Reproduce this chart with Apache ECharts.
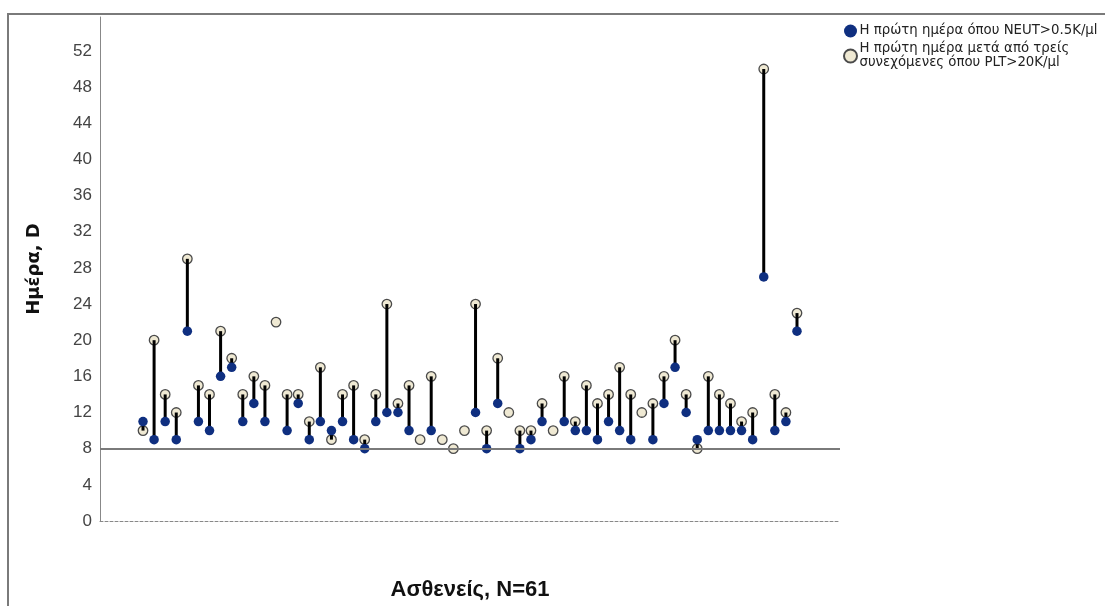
<!DOCTYPE html>
<html>
<head>
<meta charset="utf-8">
<script src="https://cdn.jsdelivr.net/npm/echarts@6/dist/echarts.min.js"></script>
<style>
  html, body { margin: 0; padding: 0; background: #fff; }
  #chart { width: 1105px; height: 606px; }
</style>
</head>
<body>
<div id="chart"></div>
<script>
// Patient index along the horizontal axis
const patients = Array.from({ length: 60 }, (_, i) => i + 1);

// First day with NEUT > 0.5K/μl (null = not reached)
const neutDay = [
  11, 9, 11, 9, 21, 11, 10, 16, 17, 11,
  13, 11, null, 10, 13, 9, 11, 10, 11, 9,
  8, 11, 12, 12, 10, null, 10, null, null, null,
  12, 8, 13, null, 8, 9, 11, null, 11, 10,
  10, 9, 11, 10, 9, null, 9, 13, 17, 12,
  9, 10, 10, 10, 10, 9, 27, 10, 11, 21
];

// First day after three consecutive days with PLT > 20K/μl
const pltDay = [
  10, 20, 14, 12, 29, 15, 14, 21, 18, 14,
  16, 15, 22, 14, 14, 11, 17, 9, 14, 15,
  9, 14, 24, 13, 15, 9, 16, 9, 8, 10,
  24, 10, 18, 12, 10, 10, 13, 10, 16, 11,
  15, 13, 14, 17, 14, 12, 13, 16, 20, 14,
  8, 16, 14, 13, 11, 12, 50, 14, 12, 23
];

// Axis ticks
const yTickStep = 4;
const referenceDay = 8;

const neutName = 'Η πρώτη ημέρα όπου NEUT>0.5K/μl';
const pltName = 'Η πρώτη ημέρα μετά από τρείς\nσυνεχόμενες όπου PLT>20K/μl';

const neutPoints = [];
const pltPoints = [];
const stems = [];
patients.forEach((p, i) => {
  if (neutDay[i] != null) neutPoints.push([p, neutDay[i]]);
  if (pltDay[i] != null) pltPoints.push([p, pltDay[i]]);
  if (neutDay[i] != null && pltDay[i] != null) stems.push([p, neutDay[i], pltDay[i]]);
});

const chart = echarts.init(document.getElementById('chart'), null, { renderer: 'canvas' });

chart.setOption({
  animation: false,
  backgroundColor: '#ffffff',
  textStyle: { fontFamily: 'Liberation Sans, Arial, sans-serif' },
  graphic: [{
    type: 'rect',
    silent: true,
    shape: { x: 8, y: 14, width: 1300, height: 800 },
    style: { fill: 'none', stroke: '#7a7a7a', lineWidth: 2 }
  }],
  grid: { left: 100, right: 265, top: 17, bottom: 83 },
  legend: {
    orient: 'vertical',
    left: 838,
    top: 19,
    itemWidth: 14,
    itemHeight: 13,
    itemGap: 4,
    selectedMode: false,
    data: [
      { name: neutName, icon: 'circle' },
      { name: pltName, icon: 'circle' }
    ],
    textStyle: {
      fontFamily: 'DejaVu Sans, sans-serif',
      fontSize: 13.3,
      color: '#222',
      lineHeight: 14,
      padding: [0, 0, 0, -3]
    }
  },
  xAxis: {
    type: 'value',
    min: -2.88,
    max: 63.88,
    name: 'Ασθενείς, N=61',
    nameLocation: 'middle',
    nameGap: 58,
    nameTextStyle: {
      fontFamily: 'Liberation Sans Narrow, Arial Narrow, Liberation Sans, sans-serif',
      fontWeight: 'bold',
      fontSize: 22,
      color: '#111'
    },
    axisLine: { show: true, lineStyle: { color: '#888', width: 1, type: [3, 2] } },
    axisTick: { show: false },
    axisLabel: { show: false },
    splitLine: { show: false }
  },
  yAxis: {
    type: 'value',
    min: 0,
    max: 55.75,
    interval: yTickStep,
    name: 'Ημέρα, D',
    nameLocation: 'middle',
    nameGap: 57,
    nameRotate: 90,
    nameTextStyle: {
      fontFamily: 'DejaVu Sans, sans-serif',
      fontWeight: 'bold',
      fontSize: 18,
      color: '#111'
    },
    axisLine: { show: true, onZero: false, lineStyle: { color: '#888', width: 1 } },
    axisTick: { show: false },
    axisLabel: { fontSize: 17, color: '#444', margin: 8, showMaxLabel: false },
    splitLine: { show: false }
  },
  series: [
    {
      name: pltName,
      type: 'scatter',
      z: 2,
      data: pltPoints,
      symbol: 'circle',
      symbolSize: 9.5,
      itemStyle: { color: '#efe9d3', borderColor: '#4a4a4a', borderWidth: 1.3, opacity: 1 },
      markLine: {
        silent: true,
        symbol: 'none',
        label: { show: false },
        lineStyle: { color: '#7a7a7a', width: 2, type: 'solid' },
        data: [{ yAxis: referenceDay }]
      }
    },
    {
      type: 'custom',
      z: 3,
      data: stems,
      encode: { x: 0, y: [1, 2] },
      renderItem: function (params, api) {
        const a = api.coord([api.value(0), api.value(1)]);
        const b = api.coord([api.value(0), api.value(2)]);
        return {
          type: 'line',
          shape: { x1: a[0], y1: a[1], x2: b[0], y2: b[1] },
          style: { stroke: '#000', lineWidth: 3 }
        };
      }
    },
    {
      name: neutName,
      type: 'scatter',
      z: 4,
      data: neutPoints,
      symbol: 'circle',
      symbolSize: 9.5,
      itemStyle: { color: '#0f2f80', opacity: 1 }
    }
  ]
});
</script>
</body>
</html>
